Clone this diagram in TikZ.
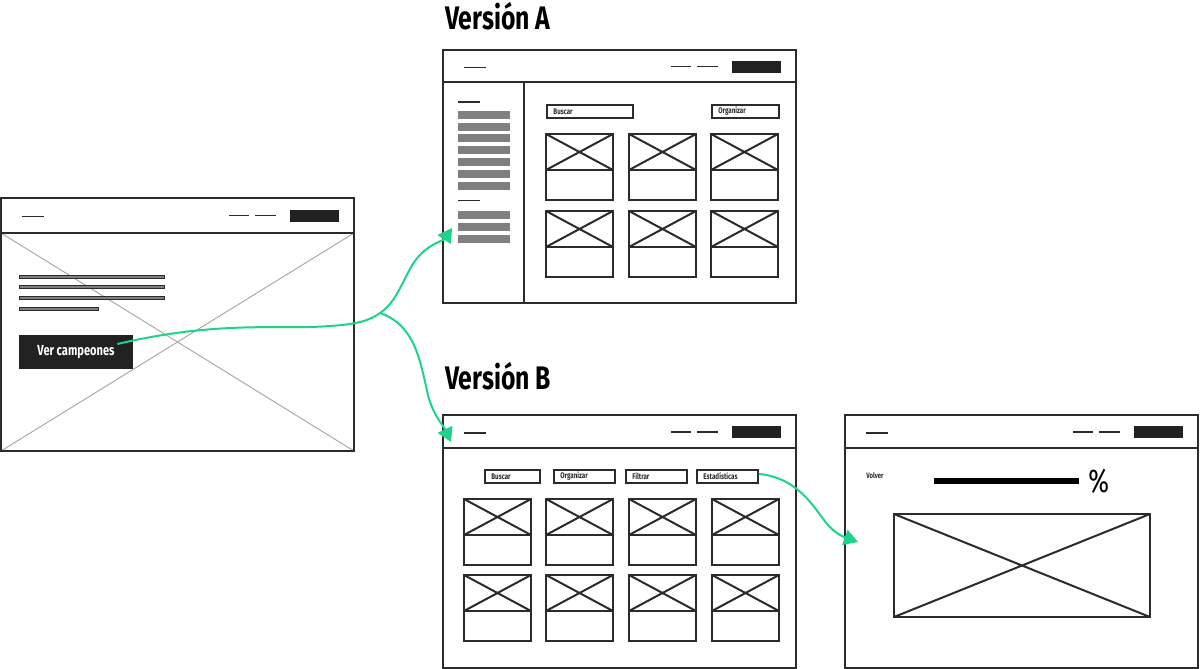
\documentclass[tikz,border=0pt]{standalone}
\usepackage{fontspec}
\newfontfamily\cnd{Fira Sans}[FakeStretch=0.76]
\usetikzlibrary{arrows.meta,calc}

\definecolor{ink}{HTML}{2B2B2B}
\definecolor{inkfill}{HTML}{222222}
\definecolor{barfill}{HTML}{808080}
\definecolor{xgray}{HTML}{ABABAB}
\definecolor{flow}{RGB}{28,212,138}

\tikzset{
  x=0.5pt, y=-0.5pt,
  frame/.style={draw=ink, line width=1pt},
  card/.style={draw=ink, line width=1pt},
  thinline/.style={draw=ink, line width=0.65pt},
  flowline/.style={draw=flow, line width=1pt, -{Triangle[length=7pt,width=8pt]}},
  title/.style={font=\cnd\bfseries\fontsize{16.3}{18}\selectfont, anchor=base west, inner sep=0pt},
  tablabel/.style={font=\cnd\bfseries\fontsize{4.1}{5}\selectfont, anchor=west, inner sep=0pt, text=ink},
  tabbox/.style={draw=ink, line width=0.9pt, anchor=north west, inner sep=0pt},
}

% browser window: x, y, header height
\newcommand\browser[3]{%
  \begin{scope}[shift={(#1,#2)}]
    \draw[frame] (0,0) rectangle (353,253);
    \draw[frame] (0,#3) -- (353,#3);
    \draw[thinline] (21,#3/2+1.5) -- (43,#3/2+1.5);
    \draw[thinline] (228,#3/2+0.5) -- (248,#3/2+0.5);
    \draw[thinline] (254,#3/2+0.5) -- (275,#3/2+0.5);
    \fill[inkfill] (289,#3/2-5.5) rectangle (338,#3/2+6.5);
  \end{scope}}

% product card with image placeholder
\newcommand\card[2]{%
  \begin{scope}[shift={(#1,#2)}]
    \draw[card] (0,0) rectangle (67,66);
    \draw[card] (0,36) -- (67,36);
    \draw[card] (0,0) -- (67,36) (0,36) -- (67,0);
  \end{scope}}

% filter tab: name, x, y, width, label
\newcommand\tab[5]{%
  \node[tabbox, minimum width=#4*0.5pt, minimum height=6.5pt] (#1) at (#2,#3) {};
  \node[tablabel] (#1-text) at ($(#1.west)+(7,0)$) {#5};}

\begin{document}
\begin{tikzpicture}
  \useasboundingbox (0,0) rectangle (1200,669);
  \fill[white] (0,0) rectangle (1200,669);

  % ---------- landing page ----------
  \draw[xgray, line width=0.5pt] (1,233) -- (354,451) (1,451) -- (354,233);
  \browser{1}{197.5}{35.5}
  \foreach \yy in {276.7,287.3,298} {
    \draw[draw=ink, fill=barfill, line width=0.5pt] (19,\yy-1.5) rectangle (164,\yy+1.5);
  }
  \draw[draw=ink, fill=barfill, line width=0.5pt] (19,307.2) rectangle (98,310.2);
  \node[fill=inkfill, minimum width=57pt, minimum height=17pt, inner sep=0pt,
        text=white, font=\cnd\bfseries\fontsize{7.3}{8}\selectfont] (ver) at (76,352) {Ver campeones};

  % ---------- version A ----------
  \node[title] (titleA) at (445,29) {Versión A};
  \browser{443}{50}{32}
  \draw[frame] (524,82) -- (524,303);
  \draw[thinline] (458,102) -- (480,102);
  \foreach \i in {0,...,6} {
    \fill[barfill] (458,110.7+\i*11.8) rectangle (510,118.7+\i*11.8);
  }
  \draw[thinline] (458,200.7) -- (480,200.7);
  \foreach \i in {0,1,2} {
    \fill[barfill] (458,211+\i*12) rectangle (510,219+\i*12);
  }
  \tab{a-buscar}{546}{104}{86}{Buscar}
  \tab{a-organizar}{711}{104}{67}{Organizar}
  \foreach \cx in {546,629,711} {
    \foreach \cy in {134,211} {
      \card{\cx}{\cy}
    }
  }

  % ---------- version B ----------
  \node[title] (titleB) at (445,389) {Versión B};
  \browser{443}{415}{33}
  \tab{b-buscar}{484}{469}{55}{Buscar}
  \tab{b-organizar}{553}{469}{61}{Organizar}
  \tab{b-filtrar}{625}{469}{61}{Filtrar}
  \tab{est}{696}{469}{61}{Estadísticas}
  \foreach \cx in {464,546,629,712} {
    \foreach \cy in {499,575} {
      \card{\cx}{\cy}
    }
  }

  % ---------- statistics page ----------
  \browser{845}{415}{33}
  \node[font=\cnd\bfseries\fontsize{3.9}{5}\selectfont, anchor=west, inner sep=0pt, text=ink] (volver) at (866,476) {Volver};
  \draw[draw=black, line width=3pt] (934,481) -- (1079,481);
  \node[font=\cnd\fontsize{16.5}{18}\selectfont, anchor=west, inner sep=0pt] (pct) at (1088,481) {\%};
  \draw[card] (894,514) rectangle (1150,617);
  \draw[card] (894,514) -- (1150,617) (894,617) -- (1150,514);

  % ---------- navigation flow ----------
  \coordinate (split) at (380,313);
  \coordinate (tipA) at (452,228);
  \coordinate (tipB) at (451,442);
  \coordinate (tipC) at (858,542);
  \draw[flowline] ($(ver.east)+(-16,-8)$) .. controls (220,320) and (280,330) .. (330,326)
        .. controls (360,324) and (370,320) .. (split)
        .. controls (400,300) and (405,270) .. (420,255)
        .. controls (430,244) and (444,240) .. (tipA);
  \draw[flowline] (split) .. controls (415,325) and (420,360) .. (428,395)
        .. controls (433,415) and (443,425) .. (tipB);
  \draw[flowline] ($(est.east)+(0,-2.5)$) .. controls (800,478) and (815,510) .. (828,525)
        .. controls (836,534) and (844,537) .. (tipC);
\end{tikzpicture}
\end{document}
